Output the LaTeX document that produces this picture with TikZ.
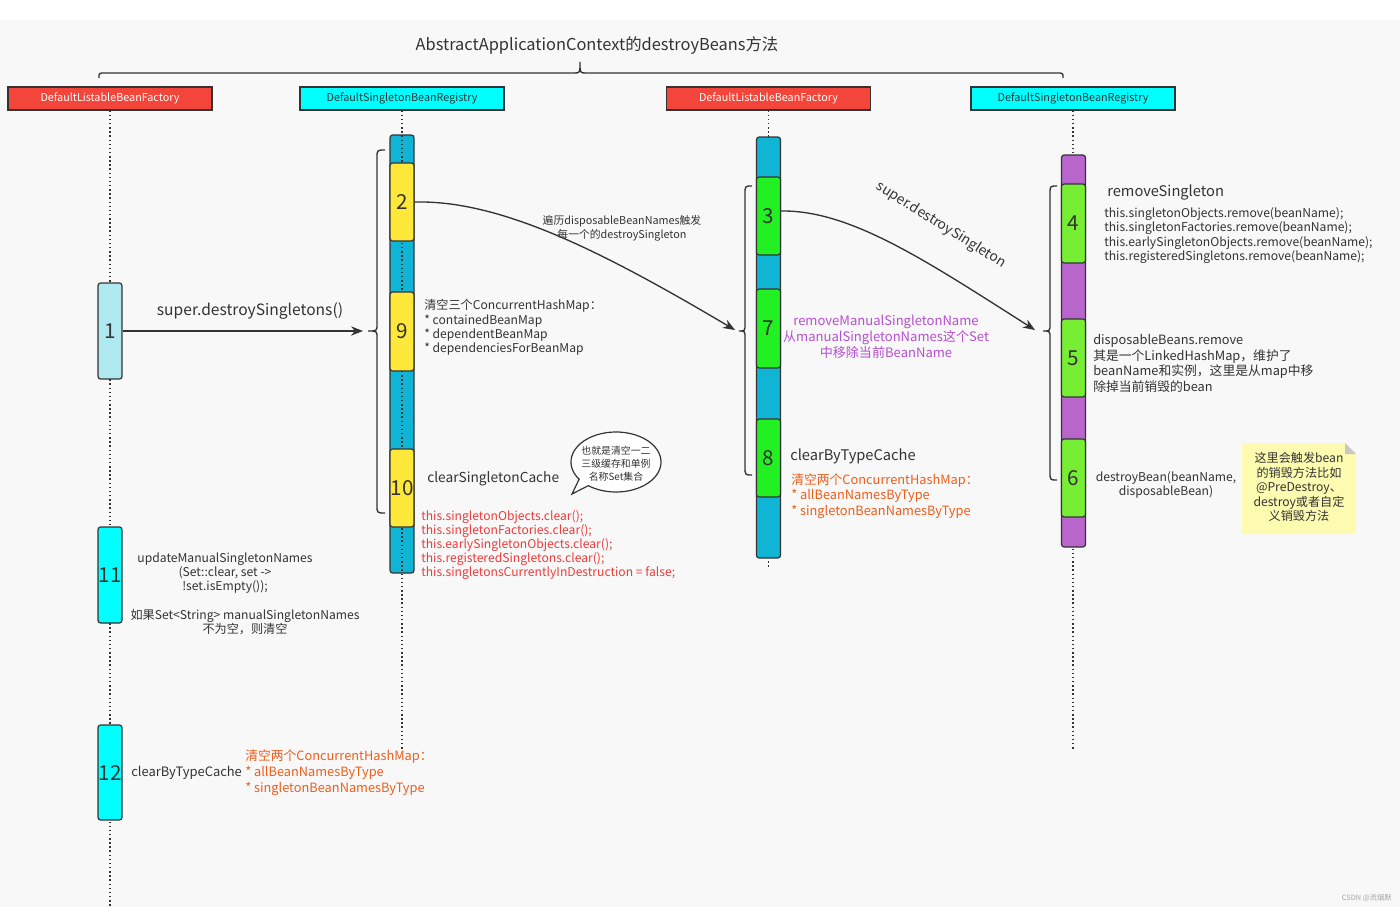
\documentclass[tikz,border=0pt]{standalone}
\usepackage{fontspec}
\setmainfont{Noto Sans CJK SC}
\usetikzlibrary{arrows.meta,calc}
\definecolor{bgc}{HTML}{F8F8F8}
\definecolor{hred}{HTML}{F4453A}
\definecolor{hcyan}{HTML}{00FFFF}
\definecolor{teal}{HTML}{10B4D4}
\definecolor{yel}{HTML}{FFE83A}
\definecolor{grnA}{HTML}{22F022}
\definecolor{grnB}{HTML}{77EE33}
\definecolor{purp}{HTML}{B866CC}
\definecolor{lcyan}{HTML}{B0E8F0}
\definecolor{txt}{HTML}{333333}
\definecolor{redtxt}{HTML}{EE3B3B}
\definecolor{purtxt}{HTML}{B650D0}
\definecolor{orgtxt}{HTML}{EE5E1A}
\definecolor{notey}{HTML}{FDFBB0}
\definecolor{edge}{HTML}{333333}
\newcommand\mybrace[6]{\draw[brc] (#1,#4) .. controls (#2,#4) .. (#2,#4+8) -- (#2,#5-7) .. controls (#2,#5) .. (#3,#5) .. controls (#2,#5) .. (#2,#5+7) -- (#2,#6-8) .. controls (#2,#6) .. (#1,#6);}
\begin{document}
\begin{tikzpicture}[x=0.75pt,y=-0.75pt,
  hdr/.style={draw=edge,line width=0.9pt,minimum width={204*0.75pt},minimum height={23*0.75pt},inner sep=0pt,font=\fontsize{8.1}{9}\selectfont},
  lifeline/.style={draw=edge,line width=1pt,dash pattern=on 1.1pt off 2pt},
  barbox/.style={draw=edge,line width=0.9pt,rounded corners=2pt,minimum width={24*0.75pt},inner sep=0pt},
  blk/.style={draw=edge,line width=0.9pt,rounded corners=2pt,minimum width={24*0.75pt},inner sep=0pt,text=txt,font=\fontsize{15.5}{16}\selectfont},
  brc/.style={draw=edge,line width=1pt},
  arr/.style={draw=edge,line width=1pt,-{Stealth[length=9pt,width=7pt]}},
  lbl/.style={text=txt,inner sep=0pt},
  f94/.style={font=\fontsize{9.1}{10.8}\selectfont},
]
\useasboundingbox (0,0) rectangle (1400,907);
\fill[bgc] (0,20) rectangle (1400,907);
\fill[white] (0,0) rectangle (1400,20);

% title and brace
\node[lbl,font=\fontsize{12.3}{14}\selectfont] (title) at (597,45) {AbstractApplicationContext的destroyBeans方法};
\draw[brc] (99,78) .. controls (99,73) .. (105,73) -- (574,73) .. controls (580,73) .. (580,62) .. controls (580,73) .. (586,73) -- (1057,73) .. controls (1063,73) .. (1063,78);

% headers
\node[hdr,fill=hred,text=white] (h1) at (110,98.5) {DefaultListableBeanFactory};
\node[hdr,fill=hcyan,text=txt] (h2) at (402,98.5) {DefaultSingletonBeanRegistry};
\node[hdr,fill=hred,text=white] (h3) at (768.5,98.5) {DefaultListableBeanFactory};
\node[hdr,fill=hcyan,text=txt] (h4) at (1073,98.5) {DefaultSingletonBeanRegistry};

% lifelines bottoms
\coordinate (e1) at (110,907);
\coordinate (e2) at (402,750);
\coordinate (e3) at (768.5,568);
\coordinate (e4) at (1073,750);

% column 1
\draw[lifeline] (h1.south) -- (e1);
\node[blk,fill=lcyan,minimum height={96*0.75pt}] (n1) at (110,331) {1};
\node[blk,fill=hcyan,minimum height={96*0.75pt}] (n11) at (110,575) {11};
\node[blk,fill=hcyan,minimum height={95*0.75pt}] (n12) at (110,772.5) {12};

% column 2
\node[barbox,fill=teal,minimum height={438*0.75pt}] (bar2) at (402,354) {};
\draw[lifeline] (h2.south) -- (e2);
\node[blk,fill=yel,minimum height={78*0.75pt}] (n2) at (402,202) {2};
\node[blk,fill=yel,minimum height={79*0.75pt}] (n9) at (402,331.5) {9};
\node[blk,fill=yel,minimum height={78*0.75pt}] (n10) at (402,488) {10};

% column 3
\draw[lifeline] (h3.south) -- (e3);
\node[barbox,fill=teal,minimum height={421*0.75pt}] (bar3) at (768.5,347.5) {};
\node[blk,fill=grnA,minimum height={78*0.75pt}] (n3) at (768.5,216) {3};
\node[blk,fill=grnA,minimum height={79*0.75pt}] (n7) at (768.5,328.5) {7};
\node[blk,fill=grnA,minimum height={78*0.75pt}] (n8) at (768.5,458) {8};

% column 4
\draw[lifeline] (h4.south) -- (e4);
\node[barbox,fill=purp,minimum height={392*0.75pt}] (bar4) at (1073.5,351) {};
\node[blk,fill=grnB,minimum height={79*0.75pt}] (n4) at (1073.5,223.5) {4};
\node[blk,fill=grnB,minimum height={78*0.75pt}] (n5) at (1073.5,358) {5};
\node[blk,fill=grnB,minimum height={78*0.75pt}] (n6) at (1073.5,478) {6};

% braces
\mybrace{385}{377}{368}{150}{331}{513}
\mybrace{752}{745}{739}{186}{331}{475}
\mybrace{1057}{1050}{1043}{186}{331}{480}

% arrows
\coordinate (t2) at (363,331);
\coordinate (t3) at (735,330);
\coordinate (t4) at (1035,330);
\draw[arr] (n1.east) -- (t2);
\node[lbl,font=\fontsize{11.7}{14}\selectfont] (l1) at (250,311) {super.destroySingletons()};
\draw[arr] (n2.east) .. controls (500,200) and (600,250) .. (t3);
\node[lbl,font=\fontsize{8.1}{10.5}\selectfont,align=center] (l2) at (622,228) {遍历disposableBeanNames触发\\每一个的destroySingleton};
\draw[arr] ([yshift=3.75pt]n3.east) .. controls (850,210) and (925,260) .. (t4);
\node[lbl,font=\fontsize{10.4}{12}\selectfont,rotate=-32] (l3) at (941,225) {super.destroySingleton};

% column 2 texts
\node[lbl,f94,align=left,anchor=west] (c9) at (424,327.5) {清空三个ConcurrentHashMap：\\* containedBeanMap\\* dependentBeanMap\\* dependenciesForBeanMap};
\node[lbl,font=\fontsize{10.3}{12}\selectfont,anchor=west] (c10) at (427,479) {clearSingletonCache};
\node[lbl,text=redtxt,font=\fontsize{9.1}{10.5}\selectfont,align=left,anchor=west] (cr) at (421,545) {this.singletonObjects.clear();\\this.singletonFactories.clear();\\this.earlySingletonObjects.clear();\\this.registeredSingletons.clear();\\this.singletonsCurrentlyInDestruction = false;};

% speech bubble
\coordinate (bc) at (616,462);
\coordinate (btip) at (572,494);
\draw[draw=edge,line width=0.9pt,fill=white] ($(bc)+(145:45 and 30)$) arc[start angle=145,end angle=488,x radius=45,y radius=30] -- (btip) -- cycle;
\node[lbl,font=\fontsize{7.4}{9.75}\selectfont,align=center] (bub) at (616,464) {也就是清空一二\\三级缓存和单例\\名称Set集合};

% column 3 texts
\node[lbl,text=purtxt,font=\fontsize{9.8}{12}\selectfont,align=center] (c7) at (886,337) {removeManualSingletonName\\从manualSingletonNames这个Set\\中移除当前BeanName};
\node[lbl,font=\fontsize{11}{12}\selectfont,anchor=west] (c8) at (790,456) {clearByTypeCache};
\node[lbl,text=orgtxt,font=\fontsize{9.6}{11.6}\selectfont,align=left,anchor=west] (c8b) at (791,496) {清空两个ConcurrentHashMap：\\* allBeanNamesByType\\* singletonBeanNamesByType};

% column 4 texts
\node[lbl,font=\fontsize{11}{12}\selectfont,anchor=west] (c4) at (1107,192) {removeSingleton};
\node[lbl,f94,align=left,anchor=west] (c4b) at (1104,235.5) {this.singletonObjects.remove(beanName);\\this.singletonFactories.remove(beanName);\\this.earlySingletonObjects.remove(beanName);\\this.registeredSingletons.remove(beanName);};
\node[lbl,font=\fontsize{9.6}{11.75}\selectfont,align=left,anchor=west] (c5) at (1093,363.5) {disposableBeans.remove\\其是一个LinkedHashMap，维护了\\beanName和实例，这里是从map中移\\除掉当前销毁的bean};
\node[lbl,f94,align=center] (c6) at (1166,485) {destroyBean(beanName,\\disposableBean)};

% note
\fill[notey] (1242,443) -- (1345,443) -- (1356,454) -- (1356,534) -- (1242,534) -- cycle;
\fill[black!22] (1345,443) -- (1356,454) -- (1345,454) -- cycle;
\node[lbl,f94,align=center] (note) at (1299,487) {这里会触发bean\\的销毁方法比如\\@PreDestroy、\\destroy或者自定\\义销毁方法};

% column 1 texts
\node[lbl,f94,align=center] (c11) at (225,573) {updateManualSingletonNames\\(Set::clear, set ->\\!set.isEmpty());};
\node[lbl,f94,align=center] (c11b) at (245,622) {如果Set<String> manualSingletonNames\\不为空，则清空};
\node[lbl,font=\fontsize{9.7}{12}\selectfont,anchor=west] (c12) at (131,773) {clearByTypeCache};
\node[lbl,text=orgtxt,font=\fontsize{9.6}{12}\selectfont,align=left,anchor=west] (c12b) at (245,773) {清空两个ConcurrentHashMap：\\* allBeanNamesByType\\* singletonBeanNamesByType};

% watermark
\node[lbl,text=black!35,font=\fontsize{5.5}{6}\selectfont,anchor=east] (wm) at (1392,898) {CSDN @流烟默};
\end{tikzpicture}
\end{document}
